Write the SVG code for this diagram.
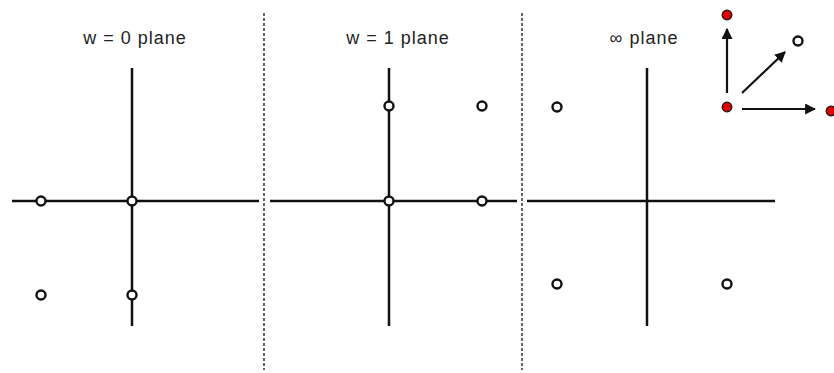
<svg xmlns="http://www.w3.org/2000/svg" width="834" height="373" viewBox="0 0 834 373">
<style>
.axis{stroke:#111;stroke-width:2.5;fill:none}
.div{stroke:#111;stroke-width:1.3;stroke-dasharray:3 2;fill:none}
.pt{fill:#fff;stroke:#111;stroke-width:2.4}
.rp{fill:#e00000;stroke:#111;stroke-width:1.3}
.arr{stroke:#111;stroke-width:2.2;fill:none;marker-end:url(#ah)}
.t{font-family:"Liberation Sans",Arial,sans-serif;font-size:18px;fill:#222;text-anchor:middle;letter-spacing:1px}
</style>
<defs>
<marker id="ah" viewBox="0 0 10 10" refX="9" refY="5" markerWidth="5" markerHeight="5" markerUnits="strokeWidth" orient="auto">
<path d="M0,0 L10,5 L0,10 z" fill="#111"/>
</marker>
</defs>
<rect width="834" height="373" fill="#fff"/>
<g id="dividers">
<line class="div" x1="264" y1="13" x2="264" y2="370"/>
<line class="div" x1="522" y1="13" x2="522" y2="370"/>
</g>
<g id="plane0">
<text class="t" x="135" y="44">w = 0 plane</text>
<line class="axis" x1="12" y1="201" x2="259" y2="201"/>
<line class="axis" x1="132" y1="68" x2="132" y2="326"/>
<circle class="pt" cx="41" cy="201" r="4.5"/>
<circle class="pt" cx="132" cy="201" r="4.5"/>
<circle class="pt" cx="41" cy="295" r="4.5"/>
<circle class="pt" cx="132" cy="295" r="4.5"/>
</g>
<g id="plane1">
<text class="t" x="398" y="44">w = 1 plane</text>
<line class="axis" x1="270" y1="201" x2="517" y2="201"/>
<line class="axis" x1="389" y1="68" x2="389" y2="326"/>
<circle class="pt" cx="389" cy="106" r="4.5"/>
<circle class="pt" cx="482" cy="106" r="4.5"/>
<circle class="pt" cx="389" cy="201" r="4.5"/>
<circle class="pt" cx="482" cy="201" r="4.5"/>
</g>
<g id="planeInf">
<text class="t" x="644" y="44">∞ plane</text>
<line class="axis" x1="527" y1="201" x2="775" y2="201"/>
<line class="axis" x1="647" y1="68" x2="647" y2="326"/>
<circle class="pt" cx="557" cy="107" r="4.5"/>
<circle class="pt" cx="557" cy="284" r="4.5"/>
<circle class="pt" cx="727" cy="284" r="4.5"/>
</g>
<g id="basis">
<circle class="rp" cx="727" cy="107" r="4.8"/>
<circle class="rp" cx="727" cy="15" r="4.8"/>
<circle class="rp" cx="831" cy="111" r="4.8"/>
<circle class="pt" cx="798" cy="41" r="4.5"/>
</g>
<g id="connectors">
<line class="arr" x1="727" y1="93" x2="727" y2="29"/>
<line class="arr" x1="742" y1="93" x2="785" y2="52"/>
<line class="arr" x1="742" y1="109" x2="815" y2="109"/>
</g>
</svg>
